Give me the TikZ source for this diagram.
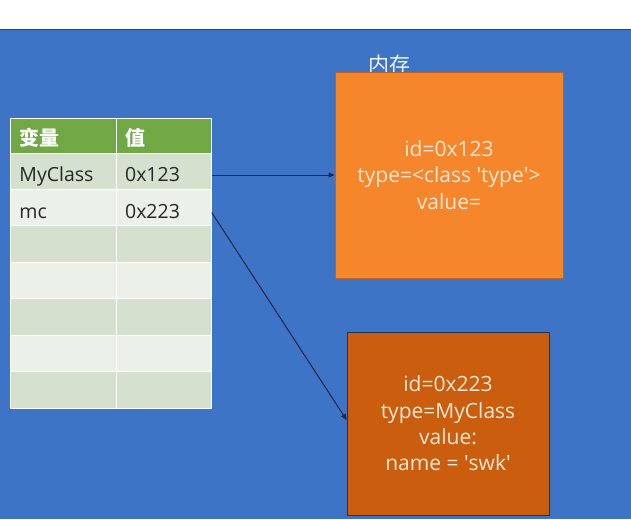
\documentclass[tikz,border=0pt]{standalone}
\usepackage{fontspec}
\setmainfont{Open Sans}
\newfontfamily\cjk{Noto Sans CJK SC}
\usepackage{tikz}
\usetikzlibrary{arrows.meta}
\usepackage{xcolor}

\definecolor{bgblue}{RGB}{61,116,198}
\definecolor{hdgreen}{RGB}{112,168,70}
\definecolor{banddark}{RGB}{213,225,206}
\definecolor{bandlight}{RGB}{235,241,233}
\definecolor{objorange}{RGB}{245,134,44}
\definecolor{objrust}{RGB}{203,94,14}
\definecolor{objtext}{RGB}{251,231,214}
\definecolor{ptrnavy}{RGB}{28,38,70}

\tikzset{
    cell/.style={rectangle, anchor=west, draw=white, line width=0.8pt,
                 minimum height=36.4pt, inner xsep=9pt, inner ysep=0pt,
                 text width=#1, text height=23.5pt, text depth=2.5pt,
                 align=left, text=black!85, font=\fontsize{19.5}{20}\selectfont},
    head/.style={cell=#1, fill=hdgreen, text=white, minimum height=35pt,
                 text height=23pt, text depth=3pt,
                 font=\fontsize{20}{20}\selectfont\cjk\bfseries},
    membox/.style={rectangle, inner sep=0pt, align=center, text=objtext,
                   font=\fontsize{21}{26.3}\selectfont},
    ptr/.style={-{Triangle[length=6pt,width=5pt]}, draw=ptrnavy, line width=1pt}
}

\begin{document}
\begin{tikzpicture}[x=1pt, y=-1pt]
    \useasboundingbox (0, 0) rectangle (631, 519);
    \fill[white] (0, 0) rectangle (631, 29);
    \fill[bgblue] (0, 29) rectangle (631, 519);
    \draw[ptrnavy!60!bgblue, line width=0.8pt] (0, 29) -- (631, 29);

    \node[text=white!92!bgblue, font=\fontsize{21}{22}\selectfont\cjk] (title) at (389, 65) {内存};

    % table of names
    \node[head=87.7pt] (hvar) at (10, 135.5) {变量};
    \node[head=77.3pt] (hval) at (115.7, 135.5) {值};

    \node[cell=87.7pt, fill=banddark] (var1) at (10, 171.2) {MyClass};
    \node[cell=77.3pt, fill=banddark] (val1) at (115.7, 171.2) {0x123};
    \node[cell=87.7pt, fill=bandlight] (var2) at (10, 207.6) {mc};
    \node[cell=77.3pt, fill=bandlight] (val2) at (115.7, 207.6) {0x223};

    \foreach \i/\band in {3/banddark, 4/bandlight, 5/banddark, 6/bandlight, 7/banddark} {
        \pgfmathsetmacro{\rowy}{153 + 36.43*(\i - 0.5)}
        \node[cell=87.7pt, fill=\band] (var\i) at (10, \rowy) {};
        \node[cell=77.3pt, fill=\band] (val\i) at (115.7, \rowy) {};
    }

    % objects in memory
    \node[membox, fill=objorange, draw=objorange!75!black, line width=0.8pt,
          minimum width=228pt, minimum height=206pt] (obj1) at (449, 175)
          {id=0x123\\type=<class \textquotesingle type\textquotesingle>\\value=};
    \node[membox, fill=objrust, draw=black!55!bgblue, line width=0.8pt,
          minimum width=202pt, minimum height=183pt] (obj2) at (448, 423.5)
          {id=0x223\\type=MyClass\\value:\\name = \textquotesingle swk\textquotesingle};

    \draw[ptr] (val1.east |- obj1.west) -- (obj1.west);
    \draw[ptr] ([yshift=-5pt]val2.east) -- ([yshift=3.5pt]obj2.west);
\end{tikzpicture}
\end{document}
